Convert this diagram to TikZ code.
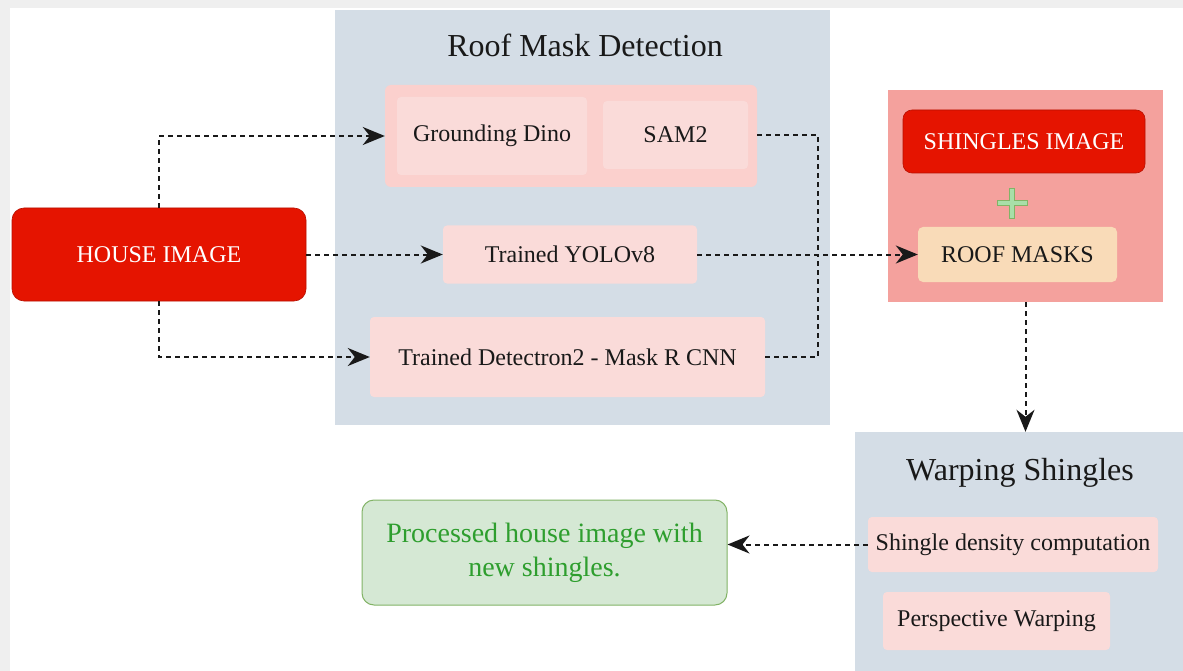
\documentclass[tikz,border=0pt]{standalone}
\usepackage{fontspec}
\setmainfont{Liberation Serif}
\usetikzlibrary{arrows.meta}

\definecolor{frame}{HTML}{EFEFEF}
\definecolor{panel}{HTML}{D4DDE6}
\definecolor{pinkgrp}{HTML}{FBD0CD}
\definecolor{pinkbox}{HTML}{FADBD9}
\definecolor{housered}{HTML}{E51400}
\definecolor{salmon}{HTML}{F4A19D}
\definecolor{peach}{HTML}{F9DBB8}
\definecolor{okfill}{HTML}{D5E8D4}
\definecolor{okline}{HTML}{82B366}
\definecolor{oktext}{HTML}{2E9E2E}
\definecolor{plusfill}{HTML}{A8DFA8}

\newcommand{\fsz}[2]{\fontsize{#1}{#2}\selectfont}

\tikzset{
  panelbox/.style={fill=panel, draw=none, inner sep=0pt},
  pinkbox/.style={fill=pinkbox, draw=none, inner sep=0pt, rounded corners=4pt,
    font=\rmfamily\fsz{24}{29}, text=black!90},
  redbox/.style={fill=housered, draw=housered!80!black, line width=0.6pt,
    rounded corners=12pt, inner sep=0pt, font=\rmfamily\fsz{24}{29}, text=white},
  paneltitle/.style={font=\rmfamily\fsz{32}{38}, text=black!90, inner sep=0pt},
  flowline/.style={draw=black!90, line width=2pt, dash pattern=on 5pt off 4pt},
  flow/.style={flowline, -{Stealth[length=22pt,width=18pt,inset=7pt]}},
}

\begin{document}
\begin{tikzpicture}[x=1pt, y=-1pt]
  \useasboundingbox (0,0) rectangle (1183,671);
  % page frame
  \fill[frame] (0,0) rectangle (1183,671);
  \fill[white] (10,8) rectangle (1183,671);

  % roof mask detection panel
  \node[panelbox, minimum width=495pt, minimum height=415pt] (rmd) at (582.5,217.5) {};
  \node[paneltitle] (rmdtitle) at (585,45) {Roof Mask Detection};
  \node[fill=pinkgrp, inner sep=0pt, rounded corners=6pt,
        minimum width=372pt, minimum height=102pt] (grp) at (571,136) {};
  \node[pinkbox, minimum width=190pt, minimum height=78pt] (gd) at (492,136) {Grounding Dino};
  \node[pinkbox, minimum width=145pt, minimum height=68pt] (sam) at (675.5,135) {SAM2};
  \node[pinkbox, minimum width=254pt, minimum height=58pt] (yolo) at (570,254.5) {Trained YOLOv8};
  \node[pinkbox, minimum width=395pt, minimum height=80pt] (det) at (567.5,357) {Trained Detectron2 - Mask R CNN};

  % input image
  \node[redbox, minimum width=294pt, minimum height=93pt] (house) at (159,254.5) {HOUSE IMAGE};

  % shingles + masks panel
  \node[fill=salmon, inner sep=0pt, minimum width=275pt, minimum height=212pt] (rpanel) at (1025.5,196) {};
  \node[redbox, rounded corners=9pt, minimum width=242pt, minimum height=63pt] (shing) at (1024,141.5) {SHINGLES IMAGE};
  \coordinate (plus) at (1012,203);
  \filldraw[fill=plusfill, draw=okline, line width=0.6pt, shift={(plus)}]
    (-2.5,-15) -- (2.5,-15) -- (2.5,-2.5) -- (15,-2.5) -- (15,2.5) -- (2.5,2.5) -- (2.5,15)
    -- (-2.5,15) -- (-2.5,2.5) -- (-15,2.5) -- (-15,-2.5) -- (-2.5,-2.5) -- cycle;
  \node[fill=peach, inner sep=0pt, rounded corners=5pt, font=\rmfamily\fsz{24}{29}, text=black!90,
        minimum width=199pt, minimum height=55pt] (roof) at (1017.5,254.5) {ROOF MASKS};

  % warping panel
  \node[panelbox, minimum width=328pt, minimum height=239pt] (warp) at (1019,551.5) {};
  \node[paneltitle] (warptitle) at (1020,473) {Warping Shingles};
  \node[pinkbox, minimum width=290pt, minimum height=55pt] (dens) at (1013,544.5) {Shingle density computation};
  \node[pinkbox, minimum width=227pt, minimum height=58pt] (persp) at (996.5,621) {Perspective Warping};

  % result
  \node[fill=okfill, draw=okline, line width=1pt, rounded corners=12pt, inner sep=0pt,
        minimum width=365pt, minimum height=105pt, align=center,
        font=\rmfamily\fsz{28}{34}, text=oktext] (proc) at (544.5,552.5)
        {Processed house image with\\new shingles.};

  % connectors
  \coordinate (join) at (818,254.5);
  \draw[flow] (house.north) |- (grp.west |- gd.west);
  \draw[flow] (house.east) -- (yolo.west);
  \draw[flow] (house.south) |- (det.west);
  \draw[flowline] (grp.east |- sam.east) -| (join);
  \draw[flowline] (det.east) -| (join);
  \draw[flow] (yolo.east) -- (roof.west);
  \draw[flow] (rpanel.south) -- (rpanel.south |- warp.north);
  \draw[flow] (dens.west) -- (dens.west -| proc.east);
\end{tikzpicture}
\end{document}
